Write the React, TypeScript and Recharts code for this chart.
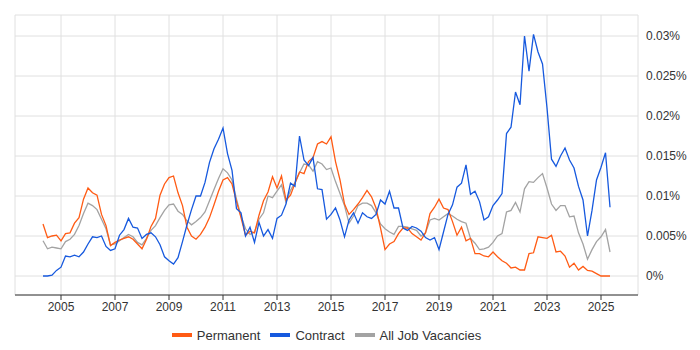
import React from "react";
import { CartesianGrid, Legend, Line, LineChart, XAxis, YAxis } from "recharts";

// Bi-monthly samples, first one in May 2004
const START_YEAR = 2004 + 4 / 12;
const STEP_YEARS = 2 / 12;

// Share of job adverts (%)
const permanent = [
  0.0065, 0.0048, 0.005, 0.0051, 0.0044, 0.0053, 0.0054, 0.0066, 0.0073, 0.0096,
  0.011, 0.0104, 0.0101, 0.0077, 0.0063, 0.0038, 0.0042, 0.0045, 0.0047, 0.0049,
  0.0046, 0.004, 0.0034, 0.0046, 0.0062, 0.0072, 0.0101, 0.0115, 0.0123, 0.0125,
  0.0104, 0.0088, 0.0061, 0.005, 0.0046, 0.0052, 0.0061, 0.0073, 0.0089, 0.0106,
  0.012, 0.0123, 0.0115, 0.0093, 0.0073, 0.0051, 0.0056, 0.0054, 0.0076, 0.0094,
  0.0105, 0.0124, 0.011, 0.0125, 0.0095, 0.0101, 0.0116, 0.013, 0.0128, 0.0143,
  0.0148, 0.0165, 0.0168, 0.0165, 0.0174, 0.0143, 0.012, 0.009, 0.0077, 0.0083,
  0.009, 0.0098, 0.0107, 0.0099, 0.0085, 0.006, 0.0033, 0.004, 0.0043, 0.0053,
  0.006, 0.006, 0.0053, 0.0049, 0.0045, 0.0054, 0.0078, 0.0086, 0.0096, 0.0085,
  0.0083, 0.0068, 0.0051, 0.0061, 0.0044, 0.0047, 0.0028, 0.0028, 0.0025, 0.0024,
  0.003, 0.0024, 0.0019, 0.0016, 0.001, 0.0011, 0.00075, 0.00075, 0.0028, 0.0029,
  0.0049, 0.0048, 0.0047, 0.0051, 0.003, 0.0031, 0.0025, 0.0011, 0.0016, 0.00075,
  0.0012, 0.0007, 0.0006, 0.0003, 0, 0, 0,
];

const contract = [
  0, 0, 0.0001, 0.0007, 0.0011, 0.0025, 0.0024, 0.0026, 0.0024, 0.003,
  0.004, 0.0049, 0.0048, 0.005, 0.0037, 0.0032, 0.0034, 0.0051, 0.0058, 0.0072,
  0.0061, 0.006, 0.0047, 0.0052, 0.0054, 0.0049, 0.0039, 0.0024, 0.0019, 0.0015,
  0.0023, 0.0043, 0.0064, 0.0083, 0.01, 0.01, 0.0117, 0.0142, 0.0159, 0.0171,
  0.0185, 0.0153, 0.0132, 0.0084, 0.0079, 0.005, 0.0061, 0.0042, 0.0067, 0.005,
  0.0058, 0.0047, 0.0072, 0.0076, 0.009, 0.0116, 0.0112, 0.0175, 0.0145, 0.0138,
  0.0148, 0.0109, 0.0108, 0.0071, 0.0077, 0.0085, 0.007, 0.0049, 0.007, 0.0079,
  0.0066, 0.0079, 0.0074, 0.0072, 0.0077, 0.0095, 0.009, 0.0106, 0.0085, 0.0085,
  0.006, 0.0057, 0.0062, 0.006, 0.0056, 0.0048, 0.0045, 0.0048, 0.0033, 0.0055,
  0.0077, 0.0089, 0.0111, 0.0116, 0.0139, 0.0102, 0.0106, 0.0093, 0.007, 0.0074,
  0.0088, 0.0095, 0.0103, 0.0178, 0.0186, 0.023, 0.0214, 0.03, 0.0256, 0.0302,
  0.028, 0.0265, 0.021, 0.0146, 0.0137, 0.015, 0.016, 0.0145, 0.0135, 0.0112,
  0.0095, 0.005, 0.0082, 0.012, 0.0136, 0.0154, 0.0086,
];

const allJobVacancies = [
  0.0044, 0.0034, 0.0036, 0.0035, 0.0034, 0.0043, 0.0046, 0.0052, 0.0063, 0.0078,
  0.0091, 0.0088, 0.0083, 0.0071, 0.0059, 0.0039, 0.004, 0.0044, 0.0048, 0.0052,
  0.0049, 0.0042, 0.0039, 0.0047, 0.0057, 0.0063, 0.0073, 0.0082, 0.0089, 0.009,
  0.0081, 0.0077, 0.0069, 0.0064, 0.0068, 0.0073, 0.008, 0.0094, 0.0108, 0.0122,
  0.0134, 0.0129, 0.012, 0.0096, 0.0075, 0.0059, 0.0052, 0.0055, 0.0071, 0.0079,
  0.01, 0.0098, 0.0106, 0.0114, 0.0092, 0.0107, 0.0117, 0.0129, 0.014, 0.0139,
  0.0131, 0.0143, 0.014, 0.0133, 0.0135, 0.0118, 0.0103, 0.0088, 0.0066, 0.0075,
  0.0088, 0.0091, 0.0091, 0.0088, 0.0079, 0.0065, 0.0059, 0.0055, 0.0052, 0.0062,
  0.0062, 0.0061, 0.0059, 0.0057, 0.005, 0.0054, 0.007, 0.0072, 0.007, 0.0074,
  0.0078, 0.0075, 0.0071, 0.0068, 0.0066, 0.0047, 0.0041, 0.0033, 0.0034, 0.0036,
  0.0042, 0.005, 0.0053, 0.008, 0.0082, 0.0092, 0.008, 0.0109, 0.0118, 0.0117,
  0.0123, 0.0128, 0.011, 0.009, 0.0082, 0.0088, 0.0088, 0.0074, 0.0075, 0.0054,
  0.004, 0.0021, 0.0033, 0.0043, 0.0049, 0.0058, 0.003,
];

const yearTicks = [2005, 2007, 2009, 2011, 2013, 2015, 2017, 2019, 2021, 2023, 2025];
const percentTicks = [0, 0.005, 0.01, 0.015, 0.02, 0.025, 0.03];

const SERIES = [
  { key: "allJobVacancies", name: "All Job Vacancies", color: "#a3a3a3" },
  { key: "permanent", name: "Permanent", color: "#ff5b14" },
  { key: "contract", name: "Contract", color: "#1659de" },
];
const LEGEND_ORDER = ["permanent", "contract", "allJobVacancies"];

const FONT = "'Liberation Sans', Arial, sans-serif";
const TEXT_COLOR = "#333";

const data = permanent.map((value, i) => ({
  t: START_YEAR + i * STEP_YEARS,
  permanent: value,
  contract: contract[i],
  allJobVacancies: allJobVacancies[i],
}));

const formatPercent = (v: number): string => `${Number(v.toFixed(3))}%`;

const LegendContent = () => (
  <div
    style={{
      display: "flex",
      justifyContent: "center",
      alignItems: "center",
      height: 18,
      fontFamily: FONT,
      fontSize: 13,
      color: TEXT_COLOR,
    }}
  >
    {LEGEND_ORDER.map((key) => {
      const s = SERIES.find((item) => item.key === key)!;
      return (
        <span key={key} style={{ display: "flex", alignItems: "center", margin: "0 5px" }}>
          <span style={{ display: "inline-block", width: 20, height: 4, background: s.color, marginRight: 5 }} />
          {s.name}
        </span>
      );
    })}
  </div>
);

export default function App() {
  return (
    <div style={{ position: "absolute", left: 0, top: 0, width: 700, height: 350, background: "#fff" }}>
      <LineChart width={700} height={350} data={data} margin={{ top: 15, right: 0, bottom: 6, left: 15 }}>
        <CartesianGrid stroke="#e0e0e0" strokeWidth={1} />
        <XAxis
          dataKey="t"
          type="number"
          scale="linear"
          domain={[2003.296, 2026.37]}
          ticks={yearTicks}
          tickFormatter={(v: number) => String(v)}
          height={31}
          allowDataOverflow
          stroke="#333"
          tick={{ fill: TEXT_COLOR, fontSize: 12, fontFamily: FONT }}
          tickSize={5}
        />
        <YAxis
          orientation="right"
          type="number"
          domain={[-0.002375, 0.032625]}
          ticks={percentTicks}
          tickFormatter={formatPercent}
          allowDataOverflow
          width={62}
          axisLine={false}
          tickLine={false}
          tick={{ fill: TEXT_COLOR, fontSize: 12, fontFamily: FONT }}
        />
        <Legend
          verticalAlign="bottom"
          content={<LegendContent />}
          wrapperStyle={{ left: 15, width: 623 }}
        />
        {SERIES.map((s) => (
          <Line
            key={s.key}
            type="linear"
            dataKey={s.key}
            name={s.name}
            stroke={s.color}
            strokeWidth={1.3}
            dot={false}
            activeDot={false}
            isAnimationActive={false}
          />
        ))}
      </LineChart>
    </div>
  );
}
